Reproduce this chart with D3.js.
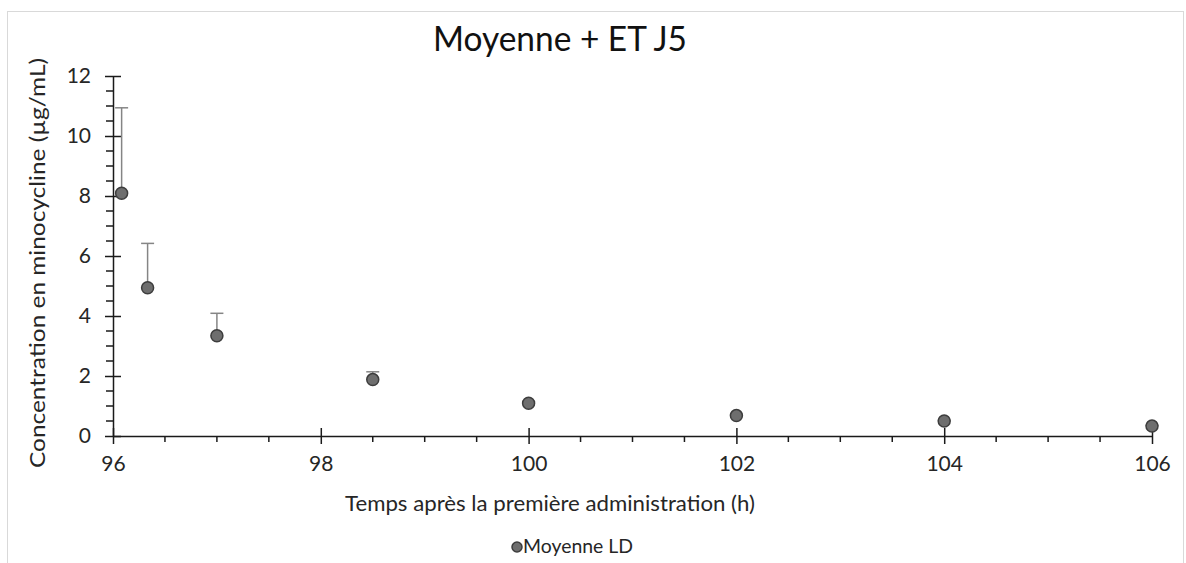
<!DOCTYPE html>
<html>
<head>
<meta charset="utf-8">
<script src="https://cdn.jsdelivr.net/npm/d3@7"></script>
<style>
  html, body { margin: 0; padding: 0; background: #fff; }
  svg { display: block; }
  text { font-family: Lato, "Open Sans", sans-serif; }
</style>
</head>
<body>
<svg id="chart" width="1186" height="563"></svg>
<script>
// ---- Data ----
const times = [96.083, 96.333, 97, 98.5, 100, 102, 104, 106];
const means = [8.09, 4.94, 3.34, 1.88, 1.09, 0.68, 0.50, 0.33];
const sdUpper = [10.94, 6.42, 4.09, 2.14, 1.15, 0.72, 0.53, 0.36];
const xTicks = [96, 98, 100, 102, 104, 106];
const yTicks = [0, 2, 4, 6, 8, 10, 12];
const title = "Moyenne + ET J5";
const xTitle = "Temps après la première administration (h)";
const yTitle = "Concentration en minocycline (µg/mL)";
const seriesName = "Moyenne LD";

const svg = d3.select("#chart");

// chart border
svg.append("rect").attr("x", 7.5).attr("y", 11.5).attr("width", 1176).attr("height", 580)
  .attr("fill", "#fff").attr("stroke", "#d9d9d9").attr("stroke-width", 1);

const x = d3.scaleLinear().domain([96, 106]).range([113, 1152]);
const y = d3.scaleLinear().domain([0, 12]).range([436, 76]);

const axisColor = "#1a1a1a";
const labelColor = "#262626";

// minor ticks
const g = svg.append("g");
const xMinor = d3.range(96.5, 106, 0.5).filter(v => Math.abs(v - Math.round(v / 2) * 2) > 1e-9);
g.selectAll(".xminor").data(xMinor).enter().append("line")
  .attr("x1", d => x(d)).attr("x2", d => x(d)).attr("y1", y(0)).attr("y2", y(0) + 6)
  .attr("stroke", axisColor).attr("stroke-width", 1.5);
const yMinor = d3.range(0.5, 12, 0.5).filter(v => Math.abs(v - Math.round(v / 2) * 2) > 1e-9);
g.selectAll(".yminor").data(yMinor).enter().append("line")
  .attr("x1", x(96) - 7).attr("x2", x(96)).attr("y1", d => y(d)).attr("y2", d => y(d))
  .attr("stroke", axisColor).attr("stroke-width", 1.5);

// x axis
const xAxis = svg.append("g").attr("transform", `translate(0,${y(0)})`)
  .call(d3.axisBottom(x).tickValues(xTicks).tickFormat(d3.format("d")).tickSize(8).tickSizeOuter(0).tickPadding(12));
xAxis.select(".domain").attr("stroke", axisColor).attr("stroke-width", 1.5);
xAxis.selectAll(".tick line").attr("stroke", axisColor).attr("stroke-width", 1.5).attr("y1", -8);
xAxis.selectAll(".tick text").attr("fill", labelColor).style("font-size", "21px");

// y axis
const yAxis = svg.append("g").attr("transform", `translate(${x(96)},0)`)
  .call(d3.axisLeft(y).tickValues(yTicks).tickSize(8).tickSizeOuter(0).tickPadding(14));
yAxis.select(".domain").attr("stroke", axisColor).attr("stroke-width", 1.5);
yAxis.selectAll(".tick line").attr("stroke", axisColor).attr("stroke-width", 1.5).attr("x1", 8);
yAxis.selectAll(".tick text").attr("fill", labelColor).style("font-size", "21px");

// error bars (upper only)
const eb = svg.append("g");
times.forEach((t, i) => {
  eb.append("line").attr("x1", x(t)).attr("x2", x(t)).attr("y1", y(means[i])).attr("y2", y(sdUpper[i]))
    .attr("stroke", "#858585").attr("stroke-width", 1.5);
  eb.append("line").attr("x1", x(t) - 6.5).attr("x2", x(t) + 6.5).attr("y1", y(sdUpper[i])).attr("y2", y(sdUpper[i]))
    .attr("stroke", "#858585").attr("stroke-width", 1.5);
});

// points
svg.append("g").selectAll("circle").data(times).enter().append("circle")
  .attr("cx", d => x(d)).attr("cy", (d, i) => y(means[i])).attr("r", 6)
  .attr("fill", "#6e6e6e").attr("stroke", "#3d3d3d").attr("stroke-width", 1.5);

// title
svg.append("text").attr("x", 560).attr("y", 51).attr("text-anchor", "middle")
  .attr("fill", "#111").style("font-size", "34px")
  .attr("textLength", 254).attr("lengthAdjust", "spacingAndGlyphs").text(title);

// axis titles
svg.append("text").attr("x", 550).attr("y", 511).attr("text-anchor", "middle")
  .attr("fill", labelColor).style("font-size", "21px")
  .attr("textLength", 410).attr("lengthAdjust", "spacingAndGlyphs").text(xTitle);
svg.append("text").attr("transform", "translate(45,263) rotate(-90)").attr("text-anchor", "middle")
  .attr("fill", labelColor).style("font-size", "21px")
  .attr("textLength", 410).attr("lengthAdjust", "spacingAndGlyphs").text(yTitle);

// legend
svg.append("circle").attr("cx", 517).attr("cy", 547).attr("r", 5)
  .attr("fill", "#6e6e6e").attr("stroke", "#3d3d3d").attr("stroke-width", 1.5);
svg.append("text").attr("x", 523).attr("y", 553).attr("fill", labelColor)
  .style("font-size", "19px")
  .attr("textLength", 110).attr("lengthAdjust", "spacingAndGlyphs").text(seriesName);
</script>
</body>
</html>
